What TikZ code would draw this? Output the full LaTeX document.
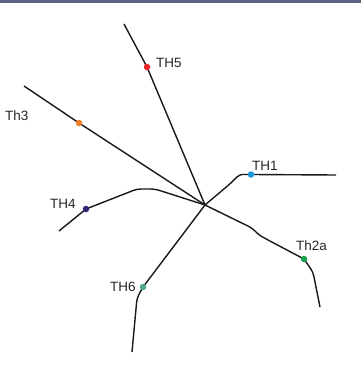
\documentclass[tikz,border=0pt]{standalone}
\usepackage{fontspec}
\setmainfont{Liberation Sans}
\definecolor{barc}{RGB}{92,98,130}
\definecolor{c5}{RGB}{232,38,42}
\definecolor{c3}{RGB}{238,127,45}
\definecolor{c4}{RGB}{46,40,120}
\definecolor{c6}{RGB}{80,168,140}
\definecolor{c1}{RGB}{26,154,216}
\definecolor{c2}{RGB}{22,160,80}
\begin{document}
\begin{tikzpicture}[x=1pt,y=-1pt,
  trace/.style={line width=1.4pt,color=black!90,line join=round,rounded corners=4pt},
  dot/.style={circle,fill=#1,inner sep=0pt,minimum size=6.5pt},
  lbl/.style={font=\fontsize{13.5}{14}\selectfont,text=black!85,inner sep=0pt}]
\useasboundingbox (0,0) rectangle (361,383);
\fill[barc] (0,0) rectangle (361,2.5);
\coordinate (c) at (205,205);
% endpoints
\coordinate (e5) at (124,24);
\coordinate (e3) at (24,86);
\coordinate (e4) at (59,231);
\coordinate (e6) at (132,352);
\coordinate (e1) at (336,175);
\coordinate (e2) at (320,307);
% dot positions
\coordinate (p5) at (147,67);
\coordinate (p3) at (79,123);
\coordinate (p4) at (86,209);
\coordinate (p6) at (143,287);
\coordinate (p1) at (251,174.5);
\coordinate (p2) at (304,259);
% traces
\draw[trace] (e5) -- (p5) -- (c);
\draw[trace] (e3) -- (p3) -- (c);
\draw[trace] (e4) -- (p4) -- (137,189) -- (155,189) -- (c);
\draw[trace] (c) -- (p6) -- (137,298) -- (e6);
\draw[trace] (c) -- (231,183) .. controls (238,175.5) and (241,174.5) .. (246,174.5) -- (p1) -- (e1);
\draw[trace] (c) -- (252,228) -- (259,235) -- (268,240) -- (p2) -- (313,272) -- (e2);
% dots
\node[dot=c5] (th5) at (p5) {};
\node[dot=c3] (th3) at (p3) {};
\node[dot=c4] (th4) at (p4) {};
\node[dot=c6] (th6) at (p6) {};
\node[dot=c1] (th1) at (p1) {};
\node[dot=c2] (th2) at (p2) {};
% labels
\node[lbl,anchor=west] (l5) at (156,63) {TH5};
\node[lbl,anchor=west] (l3) at (5,116) {Th3};
\node[lbl,anchor=west] (l4) at (50,204) {TH4};
\node[lbl,anchor=west] (l6) at (110,287) {TH6};
\node[lbl,anchor=west] (l1) at (252,166) {TH1};
\node[lbl,anchor=west] (l2) at (296,246) {Th2a};
\end{tikzpicture}
\end{document}
